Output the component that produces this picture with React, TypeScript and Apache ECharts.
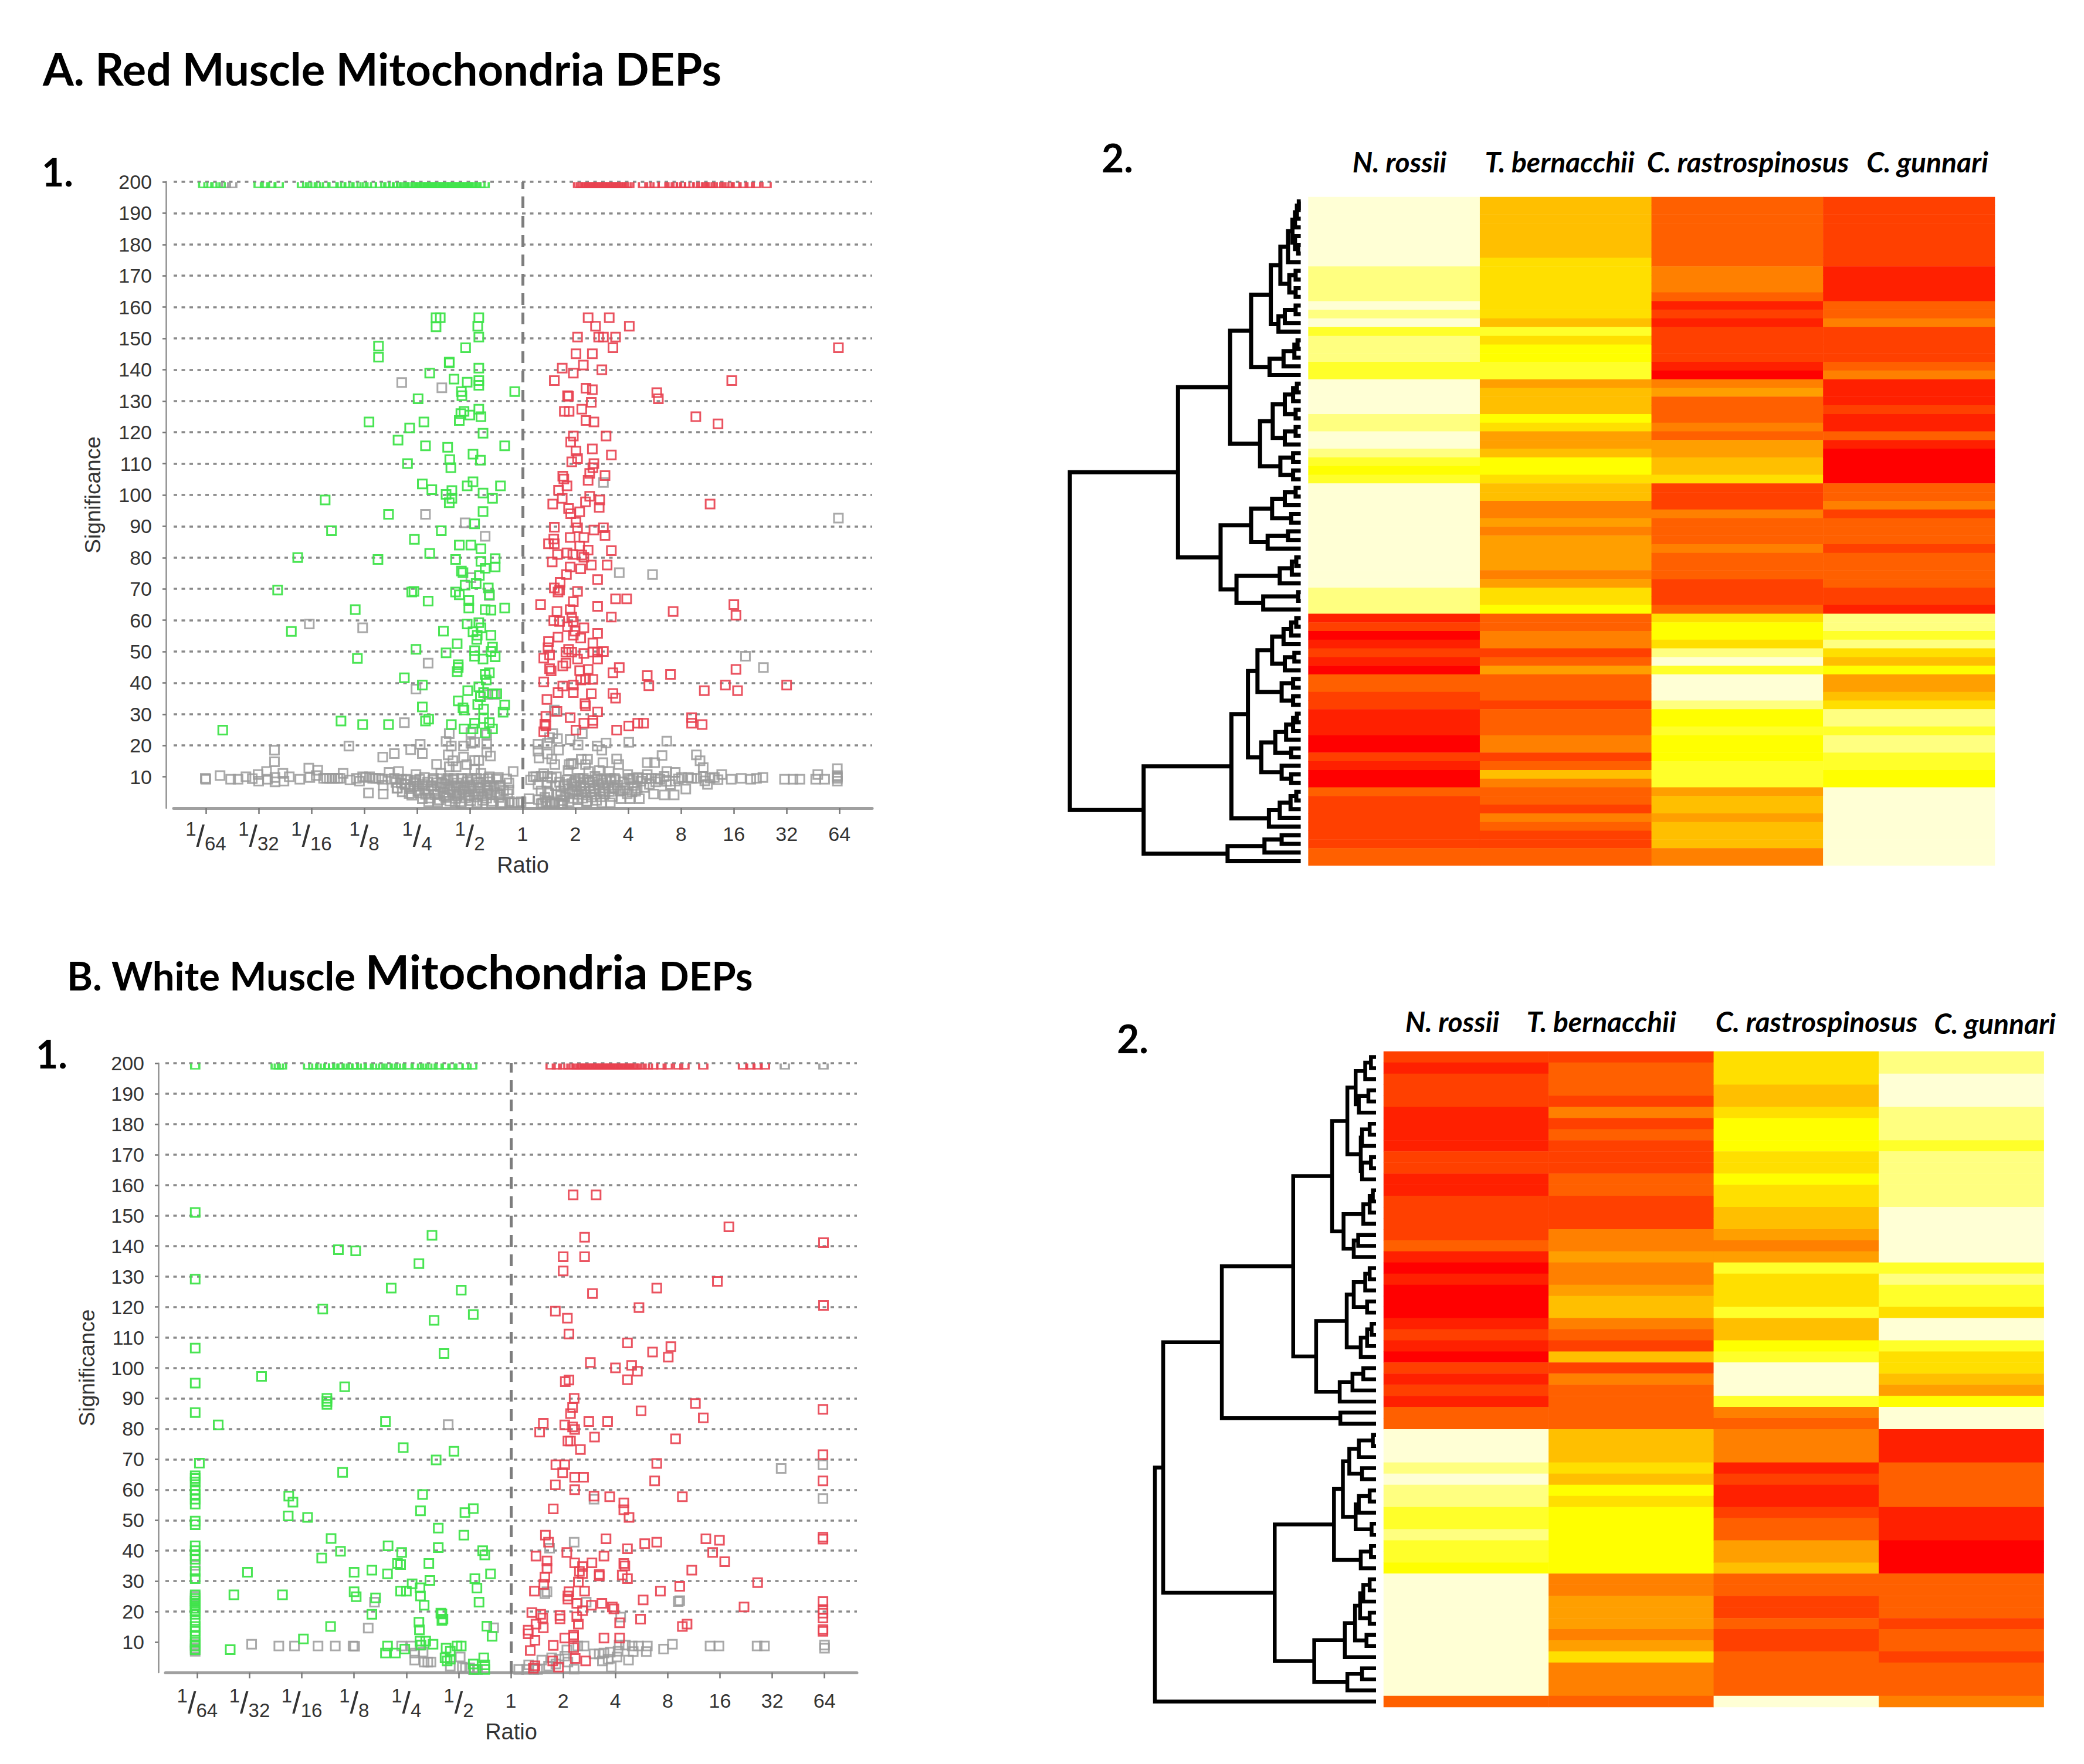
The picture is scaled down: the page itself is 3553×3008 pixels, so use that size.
import React, { useEffect, useRef } from "react";
import * as echarts from "echarts";

const W = 3553, H = 3008;
const species = ["N. rossii", "T. bernacchii", "C. rastrospinosus", "C. gunnari"];
const heatPalette = ["#FFFFD5","#FFFF80","#FFFF2A","#FFFF00","#FFDF00","#FFBF00","#FF9F00","#FF8000","#FF6000","#FF4000","#FF2000","#FF0000"];
const ratioTicks = [-6,-5,-4,-3,-2,-1,0,1,2,3,4,5,6];
const ratioLabels = ["1/64","1/32","1/16","1/8","1/4","1/2","1","2","4","8","16","32","64"];
const sigTicks = [10,20,30,40,50,60,70,80,90,100,110,120,130,140,150,160,170,180,190,200];

// ---- A1: log2(ratio), significance ----
const a1TopGreen = [-6.05,-5.95,-5.82,-5.72,-5,-4.88,-4.76,-4.62,-4.18,-4.08,-3.98,-3.86,-3.76,-3.58,-3.45,-3.36,-3.28,-3.15,-3.05,-2.95,-2.86,-2.7,-2.6,-2.52,-2.45,-2.38,-2.3,-2.25,-2.18,-2.12,-2.08,-2.03,-2,-1.95,-1.92,-1.88,-1.86,-1.82,-1.78,-1.74,-1.7,-1.66,-1.62,-1.58,-1.55,-1.5,-1.48,-1.44,-1.4,-1.36,-1.33,-1.29,-1.26,-1.22,-1.18,-1.14,-1.1,-1.06,-1.03,-.99,-.96,-.92,-.88,-.8,-.72];
const a1TopRed = [1.05,1.1,1.14,1.18,1.22,1.26,1.3,1.34,1.38,1.42,1.45,1.49,1.52,1.56,1.6,1.64,1.68,1.72,1.76,1.8,1.84,1.88,1.92,1.97,2.02,2.28,2.4,2.5,2.65,2.78,2.84,2.9,3,3.08,3.15,3.32,3.38,3.42,3.5,3.56,3.6,3.7,3.82,3.88,3.92,4.05,4.18,4.3,4.42,4.62];
const a1TopGray = [-5.62,-5.5];
const a1Green = [[-1.64,156.6],[-1.56,156.6],[-.83,156.6],[-1.64,153.7],[-.85,153.9],[-.83,150.4],[-2.73,147.5],[-2.73,144],[-1.08,147],[-1.39,142.2],[-1.39,142.4],[-.83,140.5],[-1.76,138.9],[-1.3,137],[-1.05,136],[-.83,136.5],[-.83,135],[-.15,133],[-1.16,133],[-1.15,131.7],[-1.98,130.7],[-.83,127.4],[-1.11,126.7],[-1.17,126],[-1,125.5],[-.79,125],[-1.2,123.8],[-1.87,123.3],[-2.91,123.3],[-2.14,121.4],[-.75,119.7],[-2.36,117.5],[-1.84,115.7],[-1.42,115.2],[-.34,115.7],[-.94,113],[-.8,111.1],[-1.38,111.3],[-2.18,110],[-1.36,108.7],
[-1.9,103.5],[-1.72,101.7],[-.94,104.2],[-1.05,102.9],[-.42,102.9],[-1.34,101.4],[-1.45,100.2],[-1.34,98.9],[-1.39,97.5],[-.75,100.6],[-.57,98.9],[-3.74,98.4],[-2.54,93.8],[-.75,94.7],[-.91,90.8],[-3.62,88.6],[-1.54,88.6],[-2.05,85.8],[-1.2,84],[-.98,84],[-.79,82.8],[-1.76,81.3],[-4.26,80],[-2.74,79.4],[-1.27,79.4],[-.52,79.7],[-.79,78.8],[-.52,77],[-.71,76.6],[-1.16,75.7],[-1.13,75.2],[-.82,74.3],[-1.09,71.2],[-.88,71.7],[-.65,70.3],[-4.64,69.6],[-2.06,69.2],[-2.1,69],[-1.27,69],[-1.2,68.1],[-.63,68.1],[-1.79,66.1],[-1.02,66.3],[-1.02,63.9],[-3.17,63.4],[-.71,63.4],[-.6,63.2],[-.34,63.9],[-1.05,58.8],[-.83,59.2],[-.79,57.6],[-1.5,56.5],[-4.38,56.4],[-.94,56.3],[-.86,55.2],[-.87,53.9],[-.6,55.2],[-1.24,52.5],[-2.02,50.7],[-.57,51.4],[-.91,50.3],[-.6,50],[-1.45,49.6],[-.91,48.5],[-.52,48.3],[-.75,47.6],[-3.13,47.8],[-1.22,45.8],[-1.22,44.9],[-1.24,43.6],[-.71,42.7],[-.63,43.2],[-2.24,41.6],[-1.9,39.3],[-.69,40.9],[-.83,38.7],[-1.04,37.5],[-.74,36.9],[-.57,36.5],[-.49,36.5],[-.8,35.6],[-1.22,34.2],[-.85,33.1],[-.34,32.9],[-1.9,32.3],[-1.13,32],[-1.11,31.3],[-.74,31.6],[-.37,30.6],[-1.78,28.4],[-1.84,27.8],[-.74,28.6],[-3.44,27.8],[-3.03,26.7],[-2.54,26.7],[-1.35,26.7],[-.91,27.1],[-.63,27.3],[-1.11,25.3],[-.94,25.3],[-.57,25.3],[-.71,24],[-5.68,24.9]];
const a1Red = [[1.24,156.6],[1.64,156.6],[1.38,153.9],[2.02,153.9],[1.04,150.4],[1.44,150.4],[1.53,150.4],[1.76,150.4],[1.71,147],[5.98,147],[1.01,145.1],[1.32,145.1],[1.15,141.5],[.75,140.5],[1.5,140],[.96,138.9],[.6,136.5],[3.96,136.5],[1.2,134.1],[1.32,133.6],[2.54,132.7],[.85,131.7],[.87,131.5],[2.57,130.7],[1.3,129.6],[1.12,127.4],[.79,126.7],[.88,126.7],[3.28,125],[1.2,123.8],[1.35,123.3],[3.7,122.7],[.96,118.8],[1.58,118.8],[.91,116.9],[1.01,114],[1.32,114.7],[1.68,112.8],[1.04,111.6],[.93,110.6],[1.35,110],[1.33,108.7],
[.76,106],[.78,105.1],[1.24,104.7],[.84,102.9],[1.56,106.2],[1.27,106.9],[.68,101.5],[1.27,99.6],[1.46,98.4],[1.19,97.8],[.75,98.9],[.57,97.1],[3.55,97.1],[1.45,96],[.87,95.7],[.91,94],[1.08,94.6],[1.01,91.3],[1.04,89.5],[.6,89.7],[1.53,89.5],[1.35,88.8],[1.56,87.1],[.59,85.9],[.9,86.4],[1.16,86.4],[.49,84.4],[.6,84.4],[1.08,83.7],[1.68,82.2],[1.24,82.4],[.84,81.5],[.95,81],[.66,81],[1.12,80.8],[1.16,80.1],[.56,78.6],[1.6,77.6],[1.3,77.6],[.9,77],[1.1,76.4],[.83,74.6],[1.42,73],[.71,72.1],[.6,70.3],[.7,69.6],[.67,69],[1.04,69.2],[.96,65.9],[1.76,66.8],[1.97,66.8],[.34,65],[.9,63.4],[1.42,64.4],[4,65],[2.85,62.8],[.65,62.8],[4.04,61.6],[1.68,61],[.59,59.9],[.93,61],[.7,59.6],[.96,59.6],[.85,57.9],[1.16,57.6],[.99,56.5],[1.42,55.8],[.96,55.2],[.67,54.6],[1.1,54.3],[.49,53.2],[1.33,52.7],[.48,51.2],[.87,50.7],[.93,49.8],[1.42,49.8],[1.53,50],[1.33,49.8],[1.16,49.4],[.51,48.9],[.82,49.8],[.4,47.9],[1.04,47.6],[1.42,47.6],[.82,46.3],[.76,45.4],[1.83,44.9],[.51,44.5],[.54,43.8],[4.04,44.3],[1.24,44.3],[1.08,43.9],[1.71,43.2],[2.36,42.3],[2.8,42.7],[1.19,41.1],[1.33,41.1],[.4,40.3],[1.1,40.9],[.96,39.3],[.76,39],[2.39,39.1],[3.84,39.3],[5,39.3],[.67,36.9],[.96,36.9],[3.44,37.5],[4.07,37.5],[1.71,36.6],[1.76,35.1],[1.3,36.5],[.46,34.7],[1.18,33.4],[1.19,32.7],[1.42,30.7],[.65,30.9],[.44,29.3],[.9,28.9],[3.2,28.9],[3.2,27.1],[3.4,26.7],[1.33,28],[2.18,27.1],[2.29,27.1],[2.01,26.2],[.42,26.8],[.44,26.2],[1.16,27.1],[1.33,27.1],[1.78,24.9],[1.01,24.9],[.4,24.4]];
const a1Gray = [[-2.29,135.9],[-1.53,134.2],[1.53,104],[-1.84,93.8],[-1.09,91.1],[-.71,86.8],[1.83,75.2],[2.46,74.6],[-.98,73.6],[-.63,67.9],[-4.04,58.8],[-3.03,57.6],[4.22,48.5],[4.56,44.9],[-1.79,46.3],[-2.02,38],[-2.24,27.3],[.6,31.3],[5.98,92.6],
[-1.39,23.8],[-1.45,21.3],[-.98,24.1],[-.68,23.5],[-1.94,20.4],[-2.12,18.7],[-1.9,17.4],[-2.43,17.4],[-2.65,16.3],[-3.29,19.8],[-1.35,19.8],[-1.12,19.8],[-.98,20.7],[-.91,21],[-.68,20.4],[-.68,17.9],
[-6.01,9.5],[-6,9.2],[-5.73,10.4],[-5.53,9.2],[-5.39,9.2],[-5.24,10],[-5.12,9.4],[-5.01,10.7],[-5,8.6],[-4.85,11.7],[-4.83,9.2],[-4.7,14.8],[-4.7,18.5],[-4.69,9.8],[-4.69,8.4],[-4.54,11.1],[-4.52,8.6],[-4.42,10],[-4.22,9.2],[-4.05,12.8],[-4.03,9.8],[-3.88,12.1],[-3.91,10.4],[-3.77,9.5],[-3.71,9.5],[-3.66,9.5],[-3.61,9.5],[-3.56,9.5],[-3.5,9.5],[-3.46,9.5],[-3.4,11.1],[-3.27,9],[-3.15,9.5],[-3.09,8.6],[-3.03,10],[-2.97,9.8],[-2.9,10],[-2.84,9.5],[-2.78,9.5],[-2.72,9.5],[-2.66,9.2],[-2.64,7.3],[-2.64,4.5],[-2.92,4.8],[-2.53,11.4],[-2.49,9.2],[-2.43,9.5],[-2.37,6.4],[-2.35,11.7],[-2.29,9.2],[-2.23,7.6],[-2.21,9.2],[-2.12,6.7],[-2.15,4.7],[-2.02,10.7],[-2.02,8.9],[-2.06,7],[-1.96,4.8],[-1.86,9.8],[-1.9,3],[-1.63,14],[-1.78,2],[-1.61,2],[-1.74,7],[-1.69,9.5],[-1.61,4.5],[-1.55,11.1],[-1.53,8],[-1.49,3.9],[-1.41,17],[-1.39,13.2],[-1.41,9.5],[-1.37,5.8],[-1.32,15.1],[-1.26,13.2],[-1.3,9.5],[-1.26,7],[-1.24,3.9],[-1.28,2],[-1.16,1.4],[-1.12,16.3],[-1.16,9.5],[-1.14,5.8],[-1.06,13.9],[-1.04,9.5],[-1.02,3.9],[-1,7],[-.91,12.3],[-.91,15.2],[-.83,15.2],[-.87,9.5],[-.87,1.4],[-.81,6.4],[-.79,11.1],[-.75,3.9],[-.67,6.4],[-.65,9.5],[-.63,10],[-.61,16.6],[-.67,4.8],[-.59,1.4],[-.46,9.8],[-.44,7],[-.42,4.2],[-.4,1.4],[-.26,8],[-.26,5.8],[-.18,11.7],[-.16,1.7],[-.03,2],[-.53,36.3],[-.66,36.3],
[.12,3],[.25,10],[.35,10.1],[.47,10.1],[.64,10],[.29,7.6],[.47,8.3],[.47,5.2],[.35,1.4],[.47,2],[.55,1.4],[.61,2],[.72,3.9],[.76,1.4],[.8,7.6],[.86,12],[.88,13.9],[.92,14.2],[.96,14.2],[.94,5.2],[.98,8.3],[1.05,9.5],[1.09,7],[1.11,15.6],[1.23,15.6],[1.19,13.9],[1.25,11.7],[1.15,9.5],[1.17,5.2],[1.21,2],[1.27,8.3],[1.35,6.4],[1.37,10.1],[1.45,12],[1.52,14.5],[1.48,8.9],[1.5,1.7],[1.52,5.2],[1.64,11.7],[1.66,1.7],[1.66,9.5],[1.74,9.5],[1.78,15.7],[1.82,13.9],[1.74,6.4],[1.86,3],[1.86,5.5],[1.99,10.7],[2.01,9.5],[2.03,3],[2.07,5.2],[2.17,6.4],[2.21,3],[2.09,9.5],[2.19,9.8],[2.27,9.5],[2.36,10.7],[2.36,14.5],[2.5,14.5],[2.64,16.8],[2.48,4.5],[2.44,9.5],[2.56,9.5],[2.68,10.1],[2.73,11.7],[2.89,11.4],[2.89,8.6],[2.68,4.2],[2.87,4.2],[3.09,6.1],[3.01,9.8],[3.14,9.8],[3.3,9.5],[3.42,10.1],[3.5,7.6],[3.63,9.8],[3.77,10.7],[3.95,9.2],[4.14,9.5],[4.32,9.2],[4.43,9.5],[4.55,9.8],[4.96,9.2],[5.12,9.2],[5.25,9.2],[5.55,9.2],[5.59,10.7],[5.72,9.2],[5.96,12.6],[5.96,10.4],[5.96,9.5],[5.96,8.6],[5.96,10],[3.42,12.9],[3.36,15.1],[3.29,17],
[.57,23.8],[.66,22.2],[.51,22.5],[.9,21.9],[1.13,23.8],[.61,30.9],[.29,20.4],[.47,20.7],[.29,18.2],[.68,18.5],[.31,16],[.47,17.3],[.55,15.7],[.61,13.9],[1.05,20.2],[1.41,19.8],[1.5,18.5],[1.58,20.8],[2.01,21],[2.73,21.4],
[-2.4,8.2],[-2.38,6.3],[-2.3,8],[-2.28,5.2],[-2.22,7.6],[-2.18,9],[-2.14,6.2],[-2.1,4.1],[-2.06,8.4],[-2,7],[-1.98,5.5],[-1.95,9.2],[-1.9,7.6],[-1.86,6.1],[-1.84,4.4],[-1.8,8.3],[-1.78,5.5],[-1.76,3.2],[-1.72,7.2],[-1.7,9],[-1.68,6],[-1.65,4.3],[-1.62,8.1],[-1.58,2.6],[-1.56,6.7],[-1.54,9.4],[-1.5,5],[-1.48,7.7],[-1.46,3.4],[-1.44,8.9],[-1.42,6.1],[-1.4,4.2],[-1.38,2.2],[-1.34,7.2],[-1.32,9.1],[-1.3,5.3],[-1.27,3.1],[-1.24,8],[-1.22,6.5],[-1.2,4.6],[-1.18,2],[-1.15,9.3],[-1.12,7.2],[-1.1,5.2],[-1.08,3.3],[-1.05,8.4],[-1.02,6.2],[-1,4.2],[-.98,2.4],[-.96,9],[-.93,7.4],[-.9,5.5],[-.88,3.5],[-.86,1.7],[-.84,8.2],[-.8,6.4],[-.78,4.5],[-.76,2.5],[-.74,9.3],[-.7,7.3],[-.68,3.2],[-.66,5.6],[-.62,8.4],[-.6,4.3],[-.57,2.1],[-.55,6.8],[-.5,9.2],[-.48,5],[-.45,3.4],[-.42,7.3],[-.38,1.8],[-.36,5.6],[-.3,9.3],[-.28,4.6],[-.25,2.1],[-.2,1.7],[-.1,1.8],
[.7,8.3],[.72,5.5],[.75,2.4],[.78,7],[.8,3.6],[.84,9],[.86,6.1],[.88,2],[.9,4.5],[.93,7.8],[.95,3.1],[.98,5.6],[1,8.8],[1.02,6.8],[1.04,2.6],[1.06,4.4],[1.08,9.4],[1.1,7.4],[1.12,5.3],[1.14,3.2],[1.16,8.2],[1.18,6.3],[1.2,4.2],[1.22,2.2],[1.24,9],[1.26,7.1],[1.28,5.2],[1.3,3.5],[1.33,8.4],[1.35,6.1],[1.37,4.4],[1.4,2.5],[1.42,9.5],[1.44,7.5],[1.46,5.6],[1.48,3.6],[1.52,8.1],[1.54,6.4],[1.56,4.6],[1.58,9.2],[1.62,7.2],[1.64,5.3],[1.68,8.5],[1.7,3.7],[1.72,6.2],[1.76,9.1],[1.8,7.3],[1.84,5.4],[1.9,8.4],[1.94,6.4],[1.98,4.6],[2.04,9],[2.1,7.2],[2.14,5.4],[2.24,8.6],[2.3,6.6],[2.34,9.4],[2.4,7.6],[2.52,8.4],[2.6,9.2],[2.72,8.5],[2.8,7.5],[2.95,9.3],[3.2,9.5],[3.45,8.7],[3.55,9.6],[3.7,9.1],[.15,9],[.2,10],[.4,11],[.55,9.6],[.62,7.1],[.66,4.3],[.35,5.5],[.42,3.4],[.5,4.8],[.3,2.7],[.38,1.6],[.44,2],[.52,1.4],[.6,1.6],[.68,1.5],[.74,1.4]];

// ---- B1: log2(ratio), significance ----
const b1TopGreen = [-6.04,-4.5,-4.44,-4.38,-3.88,-3.78,-3.65,-3.56,-3.48,-3.4,-3.3,-3.22,-3.12,-3.02,-2.95,-2.85,-2.72,-2.6,-2.5,-2.38,-2.3,-2.2,-2.1,-1.98,-1.8,-1.7,-1.6,-1.5,-1.38,-1.25,-1.12,-1,-.85,-.74];
const b1TopRed = [.76,.88,1,1.1,1.2,1.26,1.3,1.34,1.38,1.42,1.46,1.5,1.54,1.58,1.62,1.66,1.7,1.74,1.78,1.82,1.86,1.9,1.94,1.98,2.02,2.06,2.1,2.14,2.18,2.22,2.26,2.3,2.34,2.38,2.42,2.5,2.62,2.72,2.88,3,3.2,3.32,3.68,4.44,4.58,4.72,4.86];
const b1TopGray = [5.24,5.98];
const b1Green = [[-6.04,151],[-1.51,143.5],[-3.3,138.8],[-2.97,138.4],[-1.76,134.2],[-6.04,129.1],[-2.29,126.2],[-.95,125.5],[-3.6,119.3],[-.72,117.5],[-1.47,115.6],[-6.04,106.5],[-1.28,104.7],[-4.77,97.2],[-6.04,95],[-3.18,93.8],
[-3.52,90],[-3.52,89],[-3.52,88],[-6.04,85.3],[-5.6,81.3],[-2.4,82.4],[-2.06,73.8],[-1.09,72.6],[-1.43,69.8],[-5.96,68.7],[-3.22,65.7],[-6.04,63.7],[-6.04,64.6],[-6.04,62.5],[-6.04,60],[-6.04,58.5],[-6.04,56.9],[-6.04,55.3],[-6.04,49.7],[-6.04,48.5],[-6.04,41.6],[-6.04,40],[-6.04,38.4],[-6.04,37.2],[-6.04,33.2],[-6.04,30.8],[-6.04,25.5],[-6.04,24.3],[-6.04,23.5],[-6.04,22.7],[-6.04,21.9],[-6.04,21.1],[-6.04,20.3],[-6.04,19.1],[-6.04,17.1],[-6.04,15.1],[-6.04,13.5],[-6.04,11.9],[-6.04,9.9],[-6.04,8.7],[-6.04,7.5],
[-1.69,58.4],[-4.25,57.9],[-4.17,55.9],[-1.73,53.1],[-.72,53.8],[-.88,52.5],[-4.26,51.4],[-3.89,50.9],[-1.39,47.4],[-.9,45.1],[-3.44,44],[-2.35,41.6],[-3.26,39.8],[-1.39,41],[-2.09,39.4],[-.54,40],[-.5,38.6],[-3.62,37.6],[-2.17,35.8],[-2.11,35.4],[-1.57,35.8],[-5.04,32.9],[-3,32.9],[-2.66,33.6],[-2.36,32.4],[-.39,32.4],[-.69,30.8],[-1.55,30.2],[-1.89,29.1],[-1.74,27.8],[-.65,27.7],[-2.11,26.7],[-2,26.7],[-5.3,25.5],[-4.37,25.5],[-3,26.5],[-2.96,24.9],[-2.59,24.5],[-1.73,25.1],[-.61,23.1],[-1.66,22.1],[-1.34,19.5],[-2.66,19.1],[-1.32,17.1],[-1.76,16.5],[-1.75,14],[-3.45,15.1],[-.46,15.2],[-.36,11.9],[-3.97,11],
[-5.37,7.5],[-2.36,8.7],[-2.4,6.4],[-2.21,6.4],[-2.03,7.7],[-1.74,10.3],[-1.72,9],[-1.63,10.3],[-1.49,9.3],[-1.24,8],[-1.16,7],[-1.03,8.7],[-.95,8.7],[-1.26,4.8],[-1.16,4.4],[-1.22,3.8],[-.72,2.8],[-.7,1],[-.52,4.8],[-.5,2.5],[-.5,1],[-1.32,19.2],[-1.3,17.5]];
const b1Red = [[1.19,156.8],[1.63,156.8],[4.17,146.3],[1.41,142.9],[5.98,141.1],[1,136.5],[1.41,136.5],[1,131.8],[3.95,128.4],[2.79,126.2],[1.56,124.4],[2.45,119.8],[5.98,120.5],[.85,118.6],[1.08,116.3],[1.11,111.1],[2.23,108.2],[3.06,107],[2.71,105.2],[3.01,103.5],[1.52,101.8],[2,100],[2.31,100.8],[2.42,98.9],[2.23,96.1],[1.11,96],[1.04,95.5],
[1.21,90],[1.18,87],[1.14,85],[5.97,86.4],[3.53,88.3],[2.49,85.9],[3.68,83.6],[.62,81.8],[1.03,81.3],[1.49,82.4],[1.85,82.4],[1.18,80.6],[1.22,79.8],[.55,78.9],[1.09,76],[1.14,76],[1.6,77.3],[3.15,76.7],[1.33,73.2],[5.97,71.5],[2.79,68.6],[.86,68.2],[1.03,68.2],[.99,65.6],[1.22,64.1],[1.39,64.1],[2.75,62.9],[5.97,62.9],[.85,61.6],[1.22,60],[1.59,57.9],[1.89,57.7],[3.28,57.7],[2.16,55.7],[2.16,53.4],[.81,53.7],[2.26,50.9],[.66,45.1],[.72,42.8],[1.82,43.9],[2.56,42.3],[2.79,42.8],[3.73,43.9],[3.99,43.4],[5.97,44.4],[5.97,43.8],[2.23,40.6],[1.07,39.4],[.48,38.2],[1.78,38.2],[3.86,39.4],[.69,36.6],[1.22,36],[1.55,36],[2.16,35.8],[2.18,35],[4.09,36.4],[.69,34.2],[1.37,34.8],[1.31,33.2],[1.37,32.5],[3.46,33.6],[1.69,32.2],[1.69,31.7],[.65,31.3],[2.13,32],[2.23,30.8],[1.29,29.7],[4.72,29.5],[.63,28.9],[3.23,28.3],[.45,26.7],[1.11,26.5],[1.41,26.7],[2.86,26.7],[1.09,25.1],[1.09,24.1],[2.53,23.8],[1.26,22.7],[1.74,22.7],[5.97,23.3],[1.54,22.1],[1.94,21.5],[1.97,20.9],[4.46,21.5],[1.37,20.3],[.4,19.7],[.57,19.1],[5.97,20.7],[5.97,19.5],[5.97,17.9],[.94,18.7],[.94,17.6],[1.26,18.3],[.61,17.9],[2.48,17.5],[2.08,16.3],[1.29,15.9],[.48,15.9],[.62,14.7],[3.37,15.9],[3.28,15.1],[5.97,14.1],[5.97,13.5],[.33,13.9],[.33,12.7],[1.2,12.3],[1.2,11.7],[1.78,11.3],[2.08,11.3],[1.03,11.3],[.46,10.6],[.81,8.9],[1.2,8.2],[.37,7.2],[1.23,4.6],[1.43,3.8],[.8,3.8],[.46,2.2],[.43,1.4],[.91,1.8]];
const b1Gray = [[-1.2,81.4],[.74,40.8],[1.21,42.8],[.65,25.9],[1.59,56.9],[5.97,68.2],[5.97,57.1],[5.17,67],[3.2,23.3],[-2.73,14.6],[-2.61,23.1],[-.33,14.7],[-4.96,9.3],[-4.44,8.7],[-4.14,8.7],[-3.69,8.7],[-3.36,8.7],[-3.02,8.7],[-2.99,8.6],[-2.09,8.7],[-1.84,6.4],[-1.84,4.1],[-1.68,6.7],[-1.66,3.4],[-1.59,3.4],[-1.53,3.4],[-1.16,2.1],[-.97,5.1],[-.93,1.8],[-.87,1.5],[-.79,1.5],[-.72,1],[-.64,1],[-1.74,9],[-1.9,8.7],[-6.04,25],[-6.04,23.6],[-6.04,35.2],[-6.04,9.2],[-6.04,8],[-6.04,7],
[.69,26.5],[2.1,18.2],[3.23,23.6],[1.44,23.1],[3.09,9.3],[2.92,7.7],[3.81,8.7],[3.98,8.7],[4.71,8.7],[4.85,8.7],[6,9],[6,8],[2.19,9],[2.32,8.7],[2.44,8.7],[2.61,8.7],[2.59,6.9],[2.34,6.9],[2.05,7],[2.03,5.1],[2.25,4.1],[1.9,6.7],[1.78,6.4],[1.69,6.1],[1.59,6.1],[1.86,4.4],[1.75,3.8],[1.92,1.8],[1.4,8.7],[1.28,8.7],[1.07,7.4],[1.03,5.4],[.92,4.4],[1.09,3.4],[.78,4.8],[.59,4.1],[.72,2.1],[1.21,1.1],[.34,2.5],[.15,1],[.3,1],[.44,1],[.51,1],[.86,2.8],[2.07,9]];

// ---- A2 heat levels, 0 (palest) to 11 (reddest) ----
const a2Rossii = [0,0,0,0,0,0,0,0,1,1,1,1,0,1,0,2,1,1,1,2,2,0,0,0,0,1,1,0,0,1,2,3,2,0,0,0,0,0,0,0,0,0,0,0,0,1,1,1,10,9,11,10,9,10,11,8,8,9,9,10,10,10,11,11,9,10,11,11,8,9,9,9,9,9,9,8,8];
const a2Bernacchii = [5,5,5,5,5,5,5,4,4,4,4,4,4,4,5,2,4,3,3,2,2,6,5,5,5,3,4,6,6,5,3,3,4,5,5,7,7,6,7,6,6,6,6,7,6,4,4,3,8,8,7,7,9,8,6,8,8,8,9,8,8,8,7,7,9,8,5,7,8,8,9,7,8,9,9,8,8];
const a2Rastro = [8,8,8,8,8,8,8,8,7,7,7,8,10,9,10,9,9,9,9,10,11,7,6,8,8,8,7,8,6,6,5,5,4,9,9,9,7,8,8,8,7,8,8,8,9,9,9,8,4,3,3,4,1,0,2,0,0,0,1,3,3,2,3,3,3,2,2,2,6,5,5,6,5,5,5,7,7];
const a2Gunnari = [9,9,9,9,9,9,9,9,10,10,10,10,8,8,7,9,9,9,9,8,7,10,10,10,9,10,10,8,10,11,11,11,11,8,8,7,9,8,8,8,9,8,8,8,8,9,9,10,1,1,2,1,4,5,3,6,6,5,4,1,1,2,1,1,2,2,3,3,0,0,0,0,0,0,0,0,0];

// ---- B2 heat levels ----
const b2Rossii = [9,10,9,9,9,10,10,10,10,9,9,10,10,9,9,9,9,8,10,11,10,11,11,11,10,9,10,11,9,10,9,10,8,8,0,0,0,1,0,1,1,2,2,1,2,2,3,0,0,0,0,0,0,0,0,0,0,0,8];
const b2Bernacchii = [9,8,8,8,9,7,9,8,9,9,9,8,8,9,9,9,7,7,6,7,7,6,5,5,7,8,9,5,9,7,8,8,8,8,5,5,5,4,5,3,4,3,3,3,3,3,3,7,7,6,6,6,7,6,4,7,7,7,8];
const b2Rastro = [4,4,4,5,5,4,3,3,3,4,4,3,4,4,5,5,6,7,6,2,4,4,4,2,5,5,3,2,0,0,0,2,7,8,7,7,7,10,9,10,10,9,8,8,6,6,5,8,8,9,9,8,9,9,8,8,8,8,0];
const b2Gunnari = [1,1,0,0,0,1,1,1,2,1,1,1,1,1,0,0,0,0,0,2,1,2,2,4,0,0,2,4,4,5,6,3,0,0,10,10,10,8,8,8,8,10,10,10,11,11,11,8,8,8,8,9,8,8,9,8,8,8,7];

// ---- dendrograms: [height, upper, lower]; 0 is a leaf, taken in row order ----
const L = 0;
const a2Tree = [363,
  [193,
    [111,
      [78,
        [47,
          [32,[20,[13,[9,[6,[3,L,L],L],L],[9,L,[4,L,L]]],L],[18,[8,L,L],[8,L,L]]],
          [35,[25,[8,L,L],L],L]],
        [49,[27,[10,[5,L,L],L],L],L]],
      [64,
        [44,[25,[12,[6,L,L],L],[8,L,L]],[25,[8,L,L],L]],
        [32,[12,L,L],[12,L,L]]]],
    [126,
      [78,
        [45,[25,[8,L,L],L],[15,L,L]],
        [52,[20,L,L],L]],
      [101,
        [33,[14,[7,L,L],L],L],
        [59,[4,L,L],L]]]],
  [247,
    [109,
      [83,
        [68,
          [45,[27,[15,[7,L,L],L],L],[25,[10,L,L],L]],
          [30,[12,L,L],[12,L,L]]],
        [62,
          [40,[23,[12,[6,L,L],L],L],[15,L,L]],
          [30,L,[15,L,L]]]],
      [50,[33,[16,[7,L,L],L],L],L]],
    [115,[57,[30,L,L],L],L]]];

const b2Tree = [347,
  [334,
    [242,
      [130,
        [69,
          [45,
            [32,[17,[8,L,L],L],[27,[12,L,L],L]],
            [24,[22,[10,L,L],L],[22,[8,L,L],L]]],
          [51,[20,[10,[5,L,L],L],L],[35,[28,L,L],L]]],
        [94,
          [46,
            [35,[17,[10,L,L],L],[14,L,L]],
            [24,[14,[7,L,L],L],L]],
          [57,[37,[20,L,L],L],L]]],
      [56,L,L]],
    [159,
      [66,
        [52,
          [42,[27,[5,L,L],L],[22,L,L]],
          [32,[27,[10,L,L],L],[7,L,L]]],
        [24,[8,L,L],L]],
      [97,
        [49,[33,[25,[20,[10,L,L],L],[10,L,L]],[15,L,L]],L],
        [45,[22,L,L],L]]]],
  L];

function treeLinks(tree: any) {
  const links: number[][] = [];
  let next = 0;
  const walk = (n: any): [number, number] => {
    if (n === L) return [next++, 0];
    const a = walk(n[1]);
    const b = walk(n[2]);
    links.push([n[0], a[0], a[1], b[0], b[1]]);
    return [(a[0] + b[0]) / 2, n[0]];
  };
  walk(tree);
  return links;
}

const heatData = (cols: number[][]) => cols.flatMap((col, c) => col.map((v, r) => [c, r, v]));
const atTop = (xs: number[]) => xs.map((x) => [x, 200]);

const axisGray = "#8a8a8a";
const textGray = "#333333";
const sansFont = "Liberation Sans";
const headFont = "Lato";
const uSymbol = "path://M0 0L0 1L1 1L1 0";
const grayMark = "#9a9a9a", greenMark = "#3fe34a", redMark = "#e8404f";

const markStyle = (color: string, opacity: number) => ({ color: "rgba(0,0,0,0)", borderColor: color, borderWidth: 3, opacity });

function scatterParts(idx: number, gray: number[][], green: number[][], red: number[][]) {
  const base = { type: "scatter", xAxisIndex: idx, yAxisIndex: idx, symbol: "rect", symbolSize: 15, clip: true, silent: true };
  return [
    { ...base, name: "Unchanged", data: gray, itemStyle: markStyle(grayMark, 0.85),
      markLine: { silent: true, symbol: "none", label: { show: false },
        lineStyle: { color: "#7d7d7d", type: [20, 13], width: 5 }, data: [{ xAxis: 0 }] } },
    { ...base, name: "Down", data: green, itemStyle: markStyle(greenMark, 0.95) },
    { ...base, name: "Up", data: red, itemStyle: markStyle(redMark, 0.9) },
  ];
}

function topRow(idx: number, xs: number[], color: string) {
  return {
    type: "scatter", xAxisIndex: idx, yAxisIndex: idx, silent: true, symbol: uSymbol, symbolSize: [14, 9], symbolOffset: [0, 5],
    data: atTop(xs), itemStyle: markStyle(color, 0.9),
  };
}

function ratioAxis(idx: number, min: number, max: number, offset: number, nameGap: number) {
  return {
    type: "value", gridIndex: idx, min, max, offset, name: "Ratio", nameLocation: "middle", nameGap,
    nameTextStyle: { fontFamily: sansFont, fontSize: 38, color: textGray },
    axisLine: { show: true, lineStyle: { color: "#a0a0a0", width: 5 } },
    axisTick: { show: true, length: 10, customValues: ratioTicks, lineStyle: { color: "#777", width: 2.5 } },
    splitLine: { show: false },
    axisLabel: {
      customValues: ratioTicks, margin: 12, fontFamily: sansFont, fontSize: 34, color: textGray,
      formatter: (v: number) => {
        const t = ratioLabels[ratioTicks.indexOf(Math.round(v))] ?? "";
        if (!t.includes("/")) return `{w|${t}}`;
        const [a, b] = t.split("/");
        return `{a|${a}}{s|/}{b|${b}}`;
      },
      rich: {
        w: { fontFamily: sansFont, fontSize: 34, color: textGray, lineHeight: 50 },
        a: { fontFamily: sansFont, fontSize: 33, color: textGray, verticalAlign: "top", lineHeight: 30 },
        s: { fontFamily: sansFont, fontSize: 52, color: textGray, lineHeight: 58 },
        b: { fontFamily: sansFont, fontSize: 33, color: textGray, verticalAlign: "bottom", lineHeight: 30 },
      },
    },
  };
}

function sigAxis(idx: number, offset: number, nameGap: number) {
  return {
    type: "value", gridIndex: idx, min: 0, max: 200, interval: 10, offset, name: "Significance", nameLocation: "middle", nameGap,
    nameTextStyle: { fontFamily: sansFont, fontSize: 37, color: textGray },
    axisLine: { show: true, onZero: false, lineStyle: { color: "#8f8f8f", width: 2.5 } },
    axisTick: { show: true, length: 6, customValues: sigTicks, lineStyle: { color: "#777", width: 2.5 } },
    axisLabel: { customValues: sigTicks, margin: 24, fontFamily: sansFont, fontSize: 34, color: textGray },
    splitLine: { show: true, showMinLine: false, showMaxLine: true, lineStyle: { color: axisGray, width: 3.5, type: [6, 7.5] } },
  };
}

const hiddenCat = (idx: number, data: any[], inverse = false) => ({ type: "category", gridIndex: idx, data, show: false, inverse });
const rowIndex = (n: number) => Array.from({ length: n }, (_, i) => i);

function dendroSeries(idx: number, links: number[][], lineWidth: number) {
  return {
    type: "custom", xAxisIndex: idx, yAxisIndex: idx, silent: true, clip: false, data: links,
    encode: { x: [0, 2, 4], y: [1, 3] },
    renderItem: (_: any, api: any) => {
      const h = api.value(0), ya = api.value(1), ha = api.value(2), yb = api.value(3), hb = api.value(4);
      return {
        type: "polyline",
        shape: { points: [api.coord([ha, ya]), api.coord([h, ya]), api.coord([h, yb]), api.coord([hb, yb])] },
        style: { fill: "none", stroke: "#000", lineWidth },
      };
    },
  };
}

const head = (text: string, x: number, y: number, fontSize: number, extra: any = {}) => ({
  type: "text", x, y, silent: true,
  style: { text, fontFamily: headFont, fontWeight: 700, fontSize, fill: "#000", align: "left", verticalAlign: "middle", ...extra },
});
const sp = (text: string, x: number, y: number) => head(text, x, y, 48, { fontStyle: "italic", align: "center" });

export default function App() {
  const ref = useRef<HTMLDivElement>(null);
  useEffect(() => {
    const chart = echarts.init(ref.current!, undefined, { renderer: "svg", width: W, height: H });
    const a2Links = treeLinks(a2Tree);
    const b2Links = treeLinks(b2Tree);
    const a2Rows = a2Rossii.length, b2Rows = b2Rossii.length;
    chart.setOption({
      animation: false,
      backgroundColor: "#fff",
      grid: [
        { left: 296, top: 310, width: 1191, height: 1068 },
        { left: 282, top: 1813, width: 1179, height: 1039 },
        { left: 2230.6, top: 336, width: 1170.4, height: 1140 },
        { left: 2359, top: 1793, width: 1125.6, height: 1118 },
        { left: 1824, top: 336, width: 393.6, height: 1140 },
        { left: 1969, top: 1793, width: 377, height: 1118 },
      ],
      xAxis: [
        ratioAxis(0, -6.61, 6.62, 7, 60),
        ratioAxis(1, -6.61, 6.62, 11, 56),
        hiddenCat(2, species),
        hiddenCat(3, species),
        { type: "value", gridIndex: 4, min: 0, max: 363, inverse: true, show: false },
        { type: "value", gridIndex: 5, min: 0, max: 347, inverse: true, show: false },
      ],
      yAxis: [
        sigAxis(0, 13, 106),
        sigAxis(1, 12, 103),
        hiddenCat(2, rowIndex(a2Rows), true),
        hiddenCat(3, rowIndex(b2Rows), true),
        { type: "value", gridIndex: 4, min: -0.5, max: a2Rows - 0.5, inverse: true, show: false },
        { type: "value", gridIndex: 5, min: -0.5, max: b2Rows - 0.5, inverse: true, show: false },
      ],
      visualMap: { type: "continuous", show: false, min: 0, max: 11, dimension: 2, seriesIndex: [6, 7], inRange: { color: heatPalette } },
      series: [
        ...scatterParts(0, a1Gray, a1Green, a1Red),
        ...scatterParts(1, b1Gray, b1Green, b1Red),
        { type: "heatmap", xAxisIndex: 2, yAxisIndex: 2, silent: true, data: heatData([a2Rossii, a2Bernacchii, a2Rastro, a2Gunnari]) },
        { type: "heatmap", xAxisIndex: 3, yAxisIndex: 3, silent: true, data: heatData([b2Rossii, b2Bernacchii, b2Rastro, b2Gunnari]) },
        dendroSeries(4, a2Links, 7),
        dendroSeries(5, b2Links, 6.5),
        topRow(0, a1TopGray, grayMark), topRow(0, a1TopGreen, greenMark), topRow(0, a1TopRed, redMark),
        topRow(1, b1TopGray, grayMark), topRow(1, b1TopGreen, greenMark), topRow(1, b1TopRed, redMark),
      ],
      graphic: { elements: [
        head("A. Red Muscle Mitochondria DEPs", 73, 116, 76),
        { type: "text", x: 114, y: 1656, silent: true, style: {
          text: "{s|B. White Muscle }{l|Mitochondria }{s|DEPs}", align: "left", verticalAlign: "middle",
          rich: {
            s: { fontFamily: headFont, fontWeight: 700, fontSize: 67, fill: "#000", verticalAlign: "bottom" },
            l: { fontFamily: headFont, fontWeight: 700, fontSize: 80, fill: "#000", verticalAlign: "bottom" },
          } } },
        head("1.", 71, 292, 66),
        head("2.", 1878, 268, 66),
        head("1.", 61, 1796, 66),
        head("2.", 1904, 1770, 66),
        sp(species[0], 2398 - 12, 275), sp(species[1], 2659, 275), sp(species[2], 2980, 275), sp(species[3], 3286, 275),
        sp(species[0], 2476, 1741), sp(species[1], 2730, 1741), sp(species[2], 3097, 1741), sp(species[3], 3401, 1744),
      ] },
    });
    return () => chart.dispose();
  }, []);
  return <div ref={ref} style={{ position: "absolute", left: 0, top: 0, width: W, height: H, background: "#fff" }} />;
}
